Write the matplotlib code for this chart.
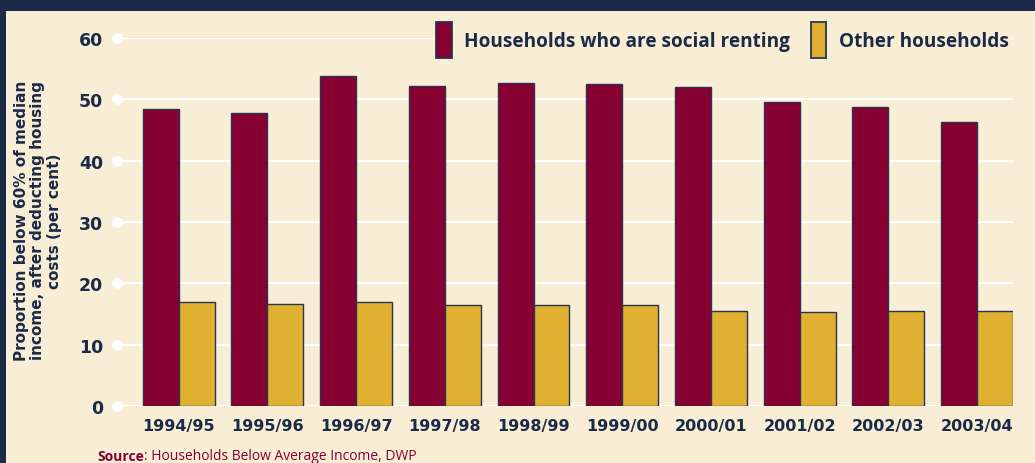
import matplotlib
matplotlib.use("Agg")
import matplotlib.pyplot as plt
from matplotlib.patches import Rectangle
import numpy as np

# data
years = ["1994/95", "1995/96", "1996/97", "1997/98", "1998/99",
         "1999/00", "2000/01", "2001/02", "2002/03", "2003/04"]
social_renting = [48.4, 47.8, 53.8, 52.2, 52.6, 52.5, 52.0, 49.5, 48.8, 46.3]
other_households = [17.0, 16.7, 17.0, 16.4, 16.4, 16.4, 15.5, 15.4, 15.5, 15.5]
y_ticks = [0, 10, 20, 30, 40, 50, 60]

# colours
navy = "#1b2a47"
cream = "#f8eed6"
maroon = "#870032"
gold = "#e0b030"
edge = "#2b3350"

plt.rcParams["font.family"] = ["DejaVu Sans"]

fig = plt.figure(figsize=(10.35, 4.64), dpi=100)
fig.patch.set_facecolor(cream)

# dark frame: band across the top and strip down the left
fig.patches.append(Rectangle((0, 1 - 12 / 464), 1, 12 / 464, transform=fig.transFigure,
                             facecolor=navy, edgecolor="none", zorder=0))
fig.patches.append(Rectangle((0, 0), 6 / 1035, 1, transform=fig.transFigure,
                             facecolor=navy, edgecolor="none", zorder=0))

ax = fig.add_axes([117 / 1035, 57 / 464, 896 / 1035, 368 / 464])
ax.set_facecolor(cream)

x = np.arange(len(years))
w = 0.405
ax.bar(x - w / 2, social_renting, w, color=maroon, edgecolor=edge, linewidth=1.0,
       label="Households who are social renting", zorder=3)
ax.bar(x + w / 2, other_households, w, color=gold, edgecolor=edge, linewidth=1.0,
       label="Other households", zorder=3)

ax.set_xlim(-0.695, 9.405)
ax.set_ylim(0, 60)
ax.set_yticks(y_ticks)
ax.set_xticks(x)
ax.set_xticklabels(years)

# white gridlines with a dot at the start of each
for t in y_ticks:
    ax.axhline(t, color="white", linewidth=1.6, zorder=1)
ax.scatter(np.zeros(len(y_ticks)), y_ticks, s=45, color="white",
           transform=ax.get_yaxis_transform(), clip_on=False, zorder=2)

for s in ax.spines.values():
    s.set_visible(False)
ax.tick_params(length=0)
ax.tick_params(axis="y", pad=10, labelsize=12.5, labelcolor=navy)
ax.tick_params(axis="x", pad=9, labelsize=11.5, labelcolor=navy)
for lab in ax.get_xticklabels() + ax.get_yticklabels():
    lab.set_fontweight("bold")

fig.text(38 / 1035, 1 - 221 / 464,
         "Proportion below 60% of median\nincome, after deducting housing\ncosts (per cent)",
         rotation=90, ha="center", va="center", fontsize=11, fontweight="bold",
         color=navy, linespacing=1.12)

leg = ax.legend(loc="center right", bbox_to_anchor=(1020 / 1035, 1 - 41 / 464),
                bbox_transform=fig.transFigure, ncol=2, frameon=True,
                facecolor=cream, edgecolor="none", framealpha=1,
                prop={"family": "Open Sans", "weight": "bold", "size": 13.7},
                handlelength=0.82, handleheight=2.6,
                handletextpad=0.65, columnspacing=1.1, borderpad=0.1)
for txt in leg.get_texts():
    txt.set_color(navy)
for h in leg.legend_handles:
    h.set_linewidth(1.3)
leg.set_zorder(5)

src = fig.text(97 / 1035, 3 / 464, "Source", fontsize=10, fontweight="bold",
               color=maroon, family="Open Sans")
ax.annotate(": Households Below Average Income, DWP", xy=(1, 0), xycoords=src,
            va="bottom", fontsize=10, color=maroon, family="Open Sans")

fig.savefig("out.png", dpi=100, facecolor=fig.get_facecolor())
